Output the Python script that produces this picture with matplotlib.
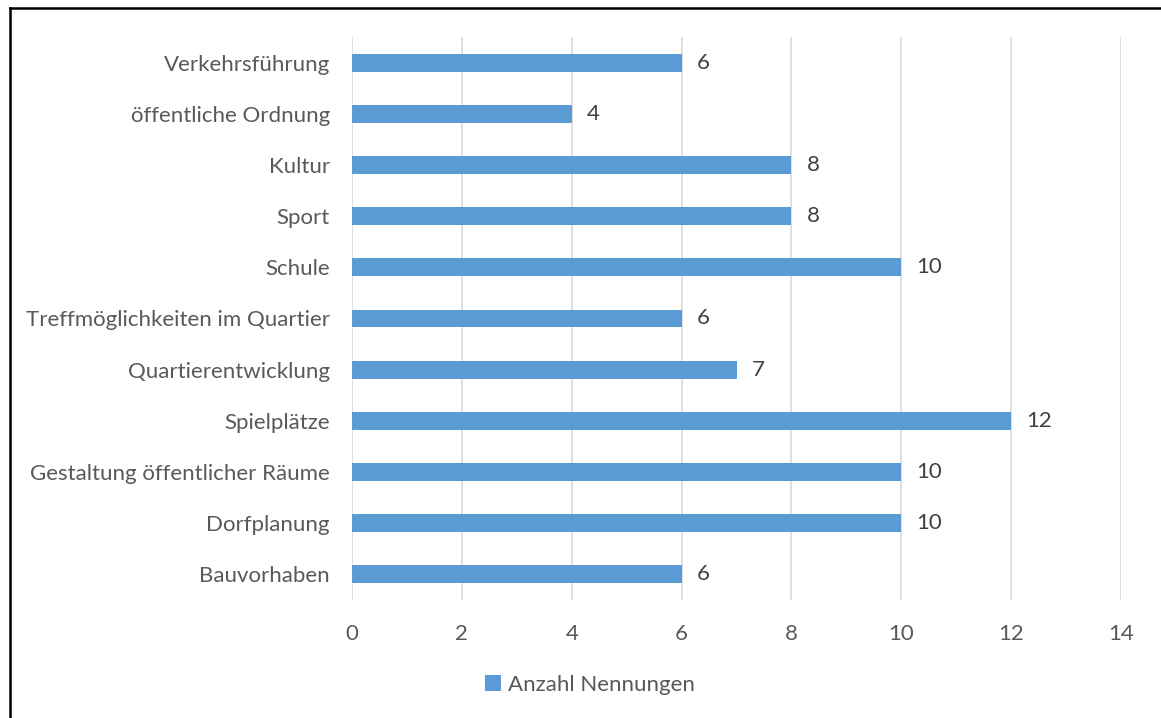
import matplotlib
matplotlib.use("Agg")
import matplotlib.pyplot as plt
from matplotlib.lines import Line2D
from matplotlib.patches import Patch

categories = ["Bauvorhaben", "Dorfplanung", "Gestaltung öffentlicher Räume",
              "Spielplätze", "Quartierentwicklung", "Treffmöglichkeiten im Quartier",
              "Schule", "Sport", "Kultur", "öffentliche Ordnung", "Verkehrsführung"]
values = [6, 10, 10, 12, 7, 6, 10, 8, 8, 4, 6]
xticks = [0, 2, 4, 6, 8, 10, 12, 14]
series_name = "Anzahl Nennungen"

plt.rcParams['font.family'] = ['Lato', 'DejaVu Sans']
bar_color = "#5B9BD5"
text_gray = "#595959"
fs = 16

fig = plt.figure(figsize=(11.61, 7.18), dpi=100)
ax = fig.add_axes([352/1161, 1-600/718, (1121-352)/1161, (600-37)/718])

y = list(range(len(categories)))
ax.barh(y, values, height=0.35, color=bar_color, zorder=3)
for yi, v in zip(y, values):
    ax.text(v + 0.28, yi, str(v), va="center", ha="left", fontsize=fs, color="#404040")

ax.set_xlim(0, 14)
ax.set_ylim(-0.5, len(categories) - 0.5)
ax.set_xticks(xticks)
ax.set_xticklabels([str(t) for t in xticks], fontsize=fs, color=text_gray)
ax.set_yticks(y)
ax.set_yticklabels(categories, fontsize=fs, color=text_gray)
ax.tick_params(axis="both", length=0)
ax.tick_params(axis="x", pad=17)
ax.tick_params(axis="y", pad=16)
ax.grid(axis="x", color="#d9d9d9", linewidth=1.2, zorder=0)
for s in ax.spines.values():
    s.set_visible(False)

handles = [Patch(facecolor=bar_color, edgecolor="none", label=series_name)]
fig.legend(handles=handles, loc="center", bbox_to_anchor=(590/1161, 1-685/718),
           frameon=False, fontsize=fs, handlelength=0.7, handleheight=0.7,
           handletextpad=0.3, labelcolor=text_gray)

# figure frame (top and left edges)
fig.add_artist(Line2D([9.5/1161, 9.5/1161], [0, 1-8/718], transform=fig.transFigure,
                      color="black", linewidth=1.8))
fig.add_artist(Line2D([9.5/1161, 1], [1-8/718, 1-8/718], transform=fig.transFigure,
                      color="black", linewidth=1.8))

fig.savefig("out.png", dpi=100)
